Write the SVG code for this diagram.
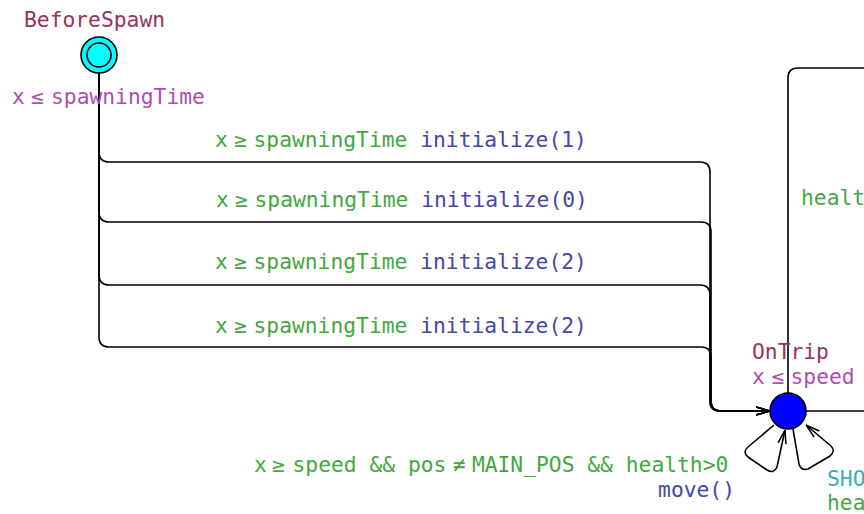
<svg xmlns="http://www.w3.org/2000/svg" width="864" height="514" viewBox="0 0 864 514">
<style>
text{font-family:"DejaVu Sans Mono","Liberation Mono",monospace;font-size:21.3px}
.name{fill:#993360}
.inv{fill:#b04db0}
.guard{fill:#42a842}
.upd{fill:#4646aa}
.sync{fill:#3caabe}
.edge{fill:none;stroke:#000;stroke-width:1.6}
.loc{stroke:#000;stroke-width:1.6}
</style>
<defs>
<marker id="arr" viewBox="0 0 14 10" refX="14" refY="5" markerWidth="14" markerHeight="10" orient="auto" markerUnits="userSpaceOnUse">
<path d="M0,1 L14,5 L0,9" fill="none" stroke="#000" stroke-width="1.5"/>
</marker>
</defs>
<rect width="864" height="514" fill="#fff"/>
<g id="connectors">
<path class="edge" d="M99,73 V152 Q99,162 109,162 H700 Q710,162 710,172 V401 Q710,411 720,411 H770" marker-end="url(#arr)"/>
<path class="edge" d="M99,73 V212 Q99,222 109,222 H701 Q711,222 711,232 V401 Q711,411 721,411 H770" marker-end="url(#arr)"/>
<path class="edge" d="M99,73 V275 Q99,285 109,285 H700 Q710,285 710,295 V401 Q710,411 720,411 H770" marker-end="url(#arr)"/>
<path class="edge" d="M99,73 V337 Q99,347 109,347 H701 Q711,347 711,357 V401 Q711,411 721,411 H770" marker-end="url(#arr)"/>
<path class="edge" d="M788,393 V78 Q788,68 798,68 H864"/>
<path class="edge" d="M806,411 H864"/>
<path class="edge" d="M774,425 L748,447 Q742,452 748,457 L767,470 Q774,474 777,467 L785,430" marker-end="url(#arr)"/>
<path class="edge" d="M793,429 L799,464 Q801,471 808,469 L830,456 Q836,451 831,446 L806,425" marker-end="url(#arr)"/>
</g>
<g id="labels">
<text y="147"><tspan class="guard" x="215">x</tspan><tspan class="guard" x="234">≥</tspan><tspan class="guard" x="253.5">spawningTime </tspan><tspan class="upd">initialize(1)</tspan></text>
<text y="207"><tspan class="guard" x="216">x</tspan><tspan class="guard" x="235">≥</tspan><tspan class="guard" x="254.5">spawningTime </tspan><tspan class="upd">initialize(0)</tspan></text>
<text y="269"><tspan class="guard" x="215">x</tspan><tspan class="guard" x="234">≥</tspan><tspan class="guard" x="253.5">spawningTime </tspan><tspan class="upd">initialize(2)</tspan></text>
<text y="333"><tspan class="guard" x="215">x</tspan><tspan class="guard" x="234">≥</tspan><tspan class="guard" x="253.5">spawningTime </tspan><tspan class="upd">initialize(2)</tspan></text>
<text class="guard" y="472"><tspan x="254">x</tspan><tspan x="272">≥</tspan><tspan x="292.5">speed &amp;&amp; pos</tspan><tspan x="452.7">≠</tspan><tspan x="471.9">MAIN_POS &amp;&amp; health&gt;0</tspan></text>
<text class="upd" x="735" y="497" text-anchor="end">move()</text>
<text class="guard" x="801" y="205">healt</text>
<text class="sync" x="827" y="486">SHO</text>
<text class="guard" x="827" y="510">hea</text>
</g>
<g id="BeforeSpawn">
<circle class="loc" cx="99" cy="55" r="18" fill="#00ffff"/>
<circle class="loc" cx="99" cy="55" r="12" fill="#00ffff"/>
<text class="name" x="24" y="27">BeforeSpawn</text>
<text class="inv" y="103.5"><tspan x="12">x</tspan><tspan x="31">≤</tspan><tspan x="51">spawningTime</tspan></text>
</g>
<g id="OnTrip">
<circle class="loc" cx="788" cy="411" r="18" fill="#0000ff"/>
<text class="name" x="752" y="358.5">OnTrip</text>
<text class="inv" y="383.5"><tspan x="752">x</tspan><tspan x="771.5">≤</tspan><tspan x="790.5">speed</tspan></text>
</g>
</svg>
